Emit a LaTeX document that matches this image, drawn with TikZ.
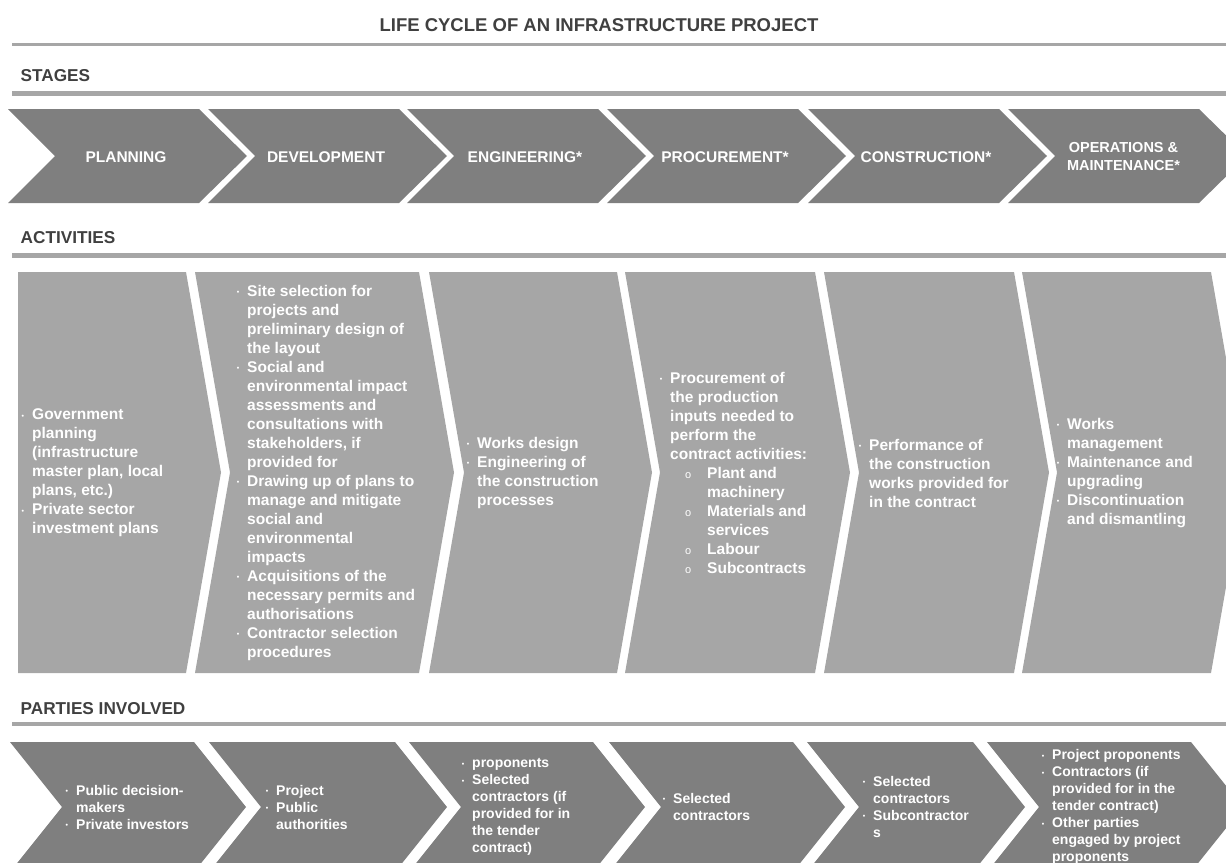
\documentclass[tikz,border=0pt]{standalone}
\usepackage{fontspec}
\setmainfont{Liberation Sans}

\definecolor{darkfill}{HTML}{7F7F7F}
\definecolor{lightfill}{HTML}{A6A6A6}
\definecolor{headtext}{HTML}{404040}

% bullets for the text blocks
\newcommand{\bu}{\llap{\raisebox{1.6pt}{\fontsize{7}{7}\selectfont\textbullet}\hspace{8pt}}}
\newcommand{\subin}{\hspace*{37pt}}
\newcommand{\sbu}{\subin\llap{{\mdseries\fontsize{11}{11}\selectfont o}\hspace{16pt}}}

\begin{document}
\begin{tikzpicture}[x=1pt, y=-1pt,
	heading/.style={anchor=west, inner sep=0pt, text=headtext, font=\bfseries\fontsize{17.2}{20}\selectfont},
	sectline/.style={draw=lightfill, line width=4.5pt},
	stagetext/.style={inner sep=0pt, text=white, align=center, font=\bfseries\fontsize{15.5}{18}\selectfont},
	acttext/.style={anchor=west, inner sep=0pt, text=white, align=left, font=\bfseries\fontsize{15.5}{19}\selectfont},
	partytext/.style={anchor=west, inner sep=0pt, text=white, align=left, font=\bfseries\fontsize{14}{17}\selectfont}]
\useasboundingbox (0,0) rectangle (1226,862);
\begin{scope}
\clip (0,0) rectangle (1226,862);

% title and section rules
\node[text=headtext, font=\bfseries\fontsize{18.5}{22}\selectfont] (title) at (599,25)
	{LIFE CYCLE OF AN INFRASTRUCTURE PROJECT};
\draw[draw=lightfill, line width=3pt] (12,44.5) -- (1226,44.5);

\node[heading] (stages) at (20.5,76) {STAGES};
\draw[sectline] (12,93.5) -- (1226,93.5);

\node[heading] (activities) at (20.5,238) {ACTIVITIES};
\draw[sectline] (12,255.5) -- (1226,255.5);

\node[heading] (parties) at (20.5,708.5) {PARTIES INVOLVED};
\draw[sectline] (12,724) -- (1226,724);

% stages
\foreach \x in {8,208,407,607,808,1008}
	\fill[darkfill] (\x,109) -- (\x+191,109) -- (\x+239,156) -- (\x+191,203)
		-- (\x,203) -- (\x+47,156) -- cycle;
\foreach \x/\lbl [count=\i] in {8/PLANNING, 208/DEVELOPMENT, 407/ENGINEERING*,
		607/PROCUREMENT*, 808/CONSTRUCTION*}
	\node[stagetext] (stage\i) at (\x+118,157) {\lbl};
\node[stagetext, font=\bfseries\fontsize{14.5}{18}\selectfont] (stage6) at (1123.5,157)
	{OPERATIONS \&\\ MAINTENANCE*};

% activities
\fill[lightfill] (18,272) -- (186,272) -- (221,472.5) -- (186,673) -- (18,673) -- cycle;
\foreach \a/\b in {195/419, 429/617, 625/815, 824/1014, 1022/1211}
	\fill[lightfill] (\a,272) -- (\b,272) -- (\b+35,472.5) -- (\b,673)
		-- (\a,673) -- (\a+35,472.5) -- cycle;

\node[acttext] (act1) at (32,473) {\bu Government\\ planning\\ (infrastructure\\
	master plan, local\\ plans, etc.)\\ \bu Private sector\\ investment plans};
\node[acttext] (act2) at (247,473) {\bu Site selection for\\ projects and\\
	preliminary design of\\ the layout\\ \bu Social and\\ environmental impact\\
	assessments and\\ consultations with\\ stakeholders, if\\ provided for\\
	\bu Drawing up of plans to\\ manage and mitigate\\ social and\\ environmental\\
	impacts\\ \bu Acquisitions of the\\ necessary permits and\\ authorisations\\
	\bu Contractor selection\\ procedures};
\node[acttext] (act3) at (477,473) {\bu Works design\\ \bu Engineering of\\
	the construction\\ processes};
\node[acttext] (act4) at (670,473) {\bu Procurement of\\ the production\\
	inputs needed to\\ perform the\\ contract activities:\\ \sbu Plant and\\
	\subin machinery\\ \sbu Materials and\\ \subin services\\ \sbu Labour\\
	\sbu Subcontracts};
\node[acttext] (act5) at (869,473) {\bu Performance of\\ the construction\\
	works provided for\\ in the contract};
\node[acttext] (act6) at (1067,473) {\bu Works\\ management\\ \bu Maintenance and\\
	upgrading\\ \bu Discontinuation\\ and dismantling};

% parties involved
\foreach \a/\b in {10/194, 209/395, 409/593, 609/793, 807/973, 987/1191}
	\fill[darkfill] (\a,742) -- (\b,742) -- (\b+52,807) -- (\b,872)
		-- (\a,872) -- (\a+52,807) -- cycle;

\node[partytext] (party1) at (76,807) {\bu Public decision-\\ makers\\ \bu Private investors};
\node[partytext] (party2) at (276,807) {\bu Project\\ \bu Public\\ authorities};
\node[partytext] (party3) at (472,807) {\bu proponents\\ \bu Selected\\ contractors (if\\
	provided for in\\ the tender\\ contract)};
\node[partytext] (party4) at (673,807) {\bu Selected\\ contractors};
\node[partytext] (party5) at (873,807) {\bu Selected\\ contractors\\ \bu Subcontractor\\ s};
\node[partytext] (party6) at (1052,807) {\bu Project proponents\\ \bu Contractors (if\\
	provided for in the\\ tender contract)\\ \bu Other parties\\ engaged by project\\
	proponents};
\end{scope}
\end{tikzpicture}
\end{document}
